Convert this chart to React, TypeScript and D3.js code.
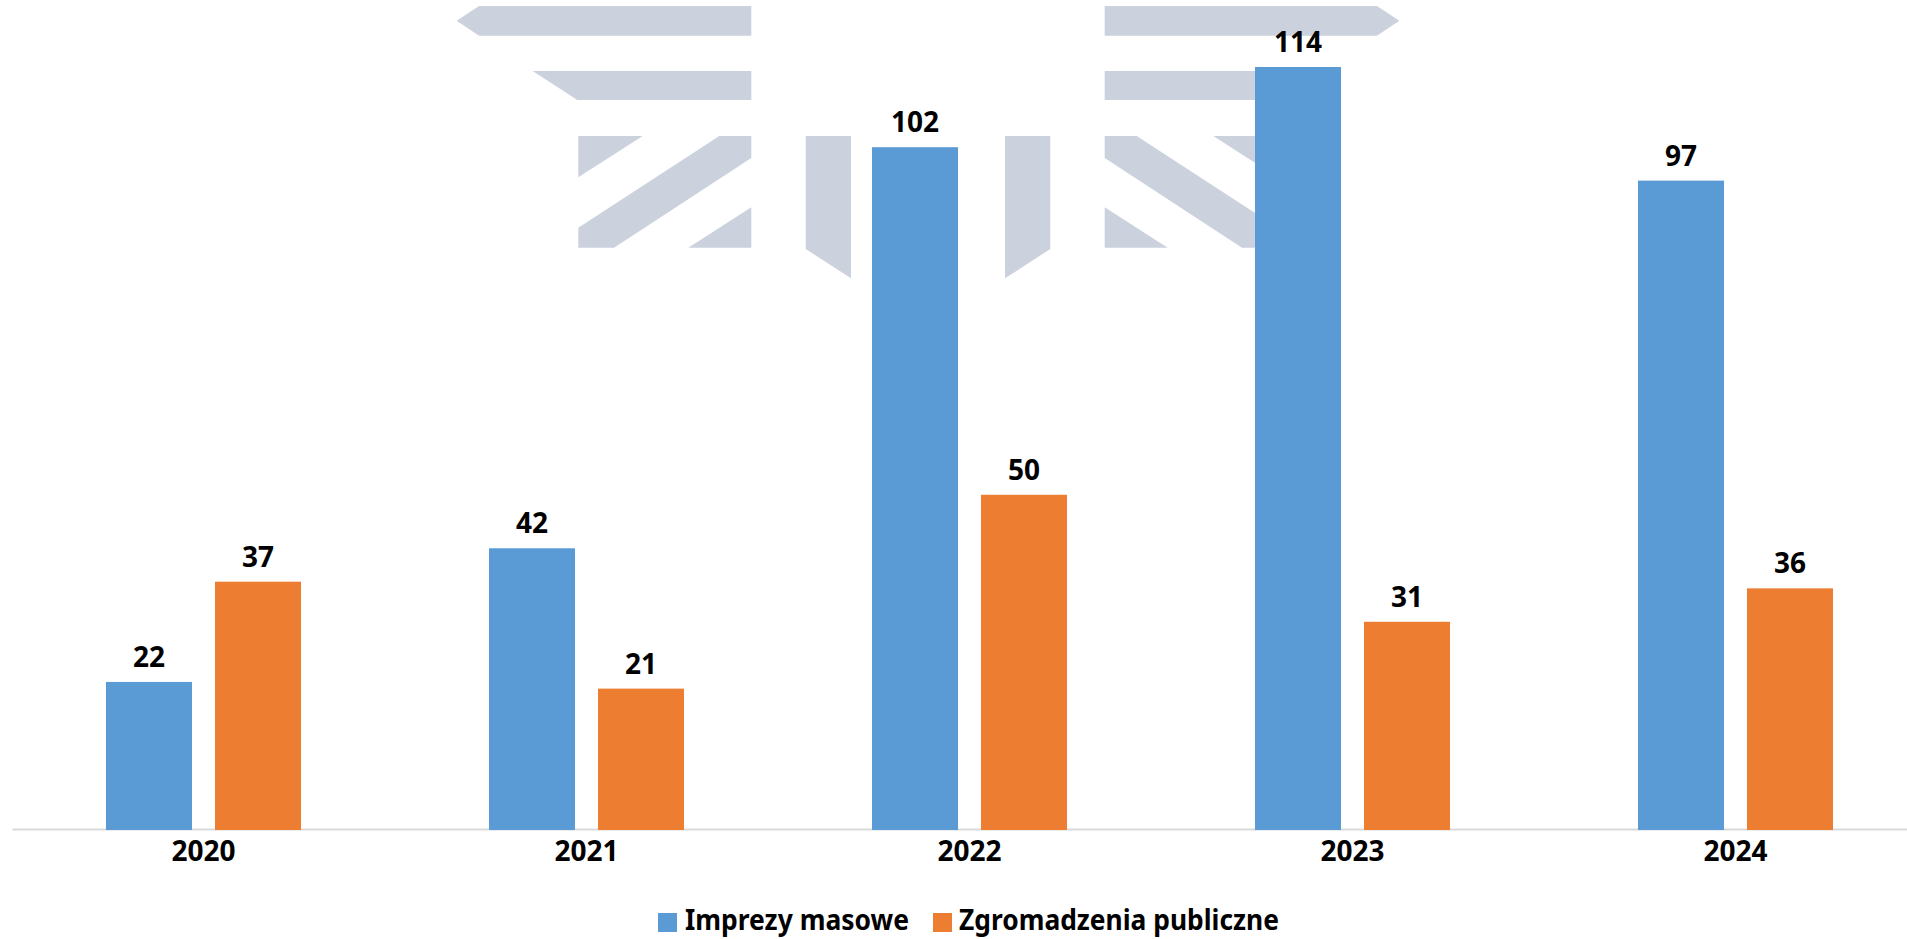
import { useRef, useEffect } from 'react';
import * as d3 from 'd3';

const years = ['2020', '2021', '2022', '2023', '2024'];
const imprezyMasowe = [22, 42, 102, 114, 97];
const zgromadzeniaPubliczne = [37, 21, 50, 31, 36];
const seriesNames = ['Imprezy masowe', 'Zgromadzenia publiczne'];
const seriesColors = ['#5B9BD5', '#ED7D31'];

const width = 1907;
const height = 939;
const baseline = 829;
const font = '"Noto Sans", sans-serif';

// logo behind the bars, left half only, the right half is mirrored around x=928
const watermark = [
  'M456.7,20.7 L479,6 L751.3,6 L751.3,35.7 L479,35.7 Z',
  'M532.7,71 L751.3,71 L751.3,100 L577.3,100 Z',
  'M578.3,136 L642.7,136 L578.3,177.3 Z',
  'M719.3,136 L751.3,136 L751.3,158 L614,247.7 L578.3,247.7 L578.3,227.7 Z',
  'M751.3,207.3 L751.3,247.7 L688.3,247.7 Z',
  'M805.7,136 L851,136 L851,278.3 L805.7,249 Z',
];

export default function App() {
  const axisRef = useRef<SVGGElement>(null);

  // runs past the right edge of the picture, same as the original
  const x = d3.scaleBand().domain(years).range([12, 1927]);
  const xInner = d3.scaleBand().domain(seriesNames).range([0, 195]).paddingInner(23 / 109);
  const y = d3.scaleLinear().domain([0, 114]).range([baseline, 67]);

  const offset = (x.bandwidth() - 195) / 2;
  const series = [imprezyMasowe, zgromadzeniaPubliczne];

  useEffect(() => {
    const axis = d3.axisBottom(x).tickSize(0).tickPadding(0);
    const g = d3.select(axisRef.current);
    g.call(axis as any);
    g.select('.domain').attr('stroke', '#D9D9D9').attr('stroke-width', 2);
    g.selectAll('text')
      .attr('y', 32)
      .attr('dy', 0)
      .attr('fill', '#000')
      .attr('font-size', 28)
      .attr('font-weight', 700)
      .attr('font-family', font);
  }, []);

  return (
    <svg
      width={width}
      height={height}
      style={{ position: 'absolute', left: 0, top: 0, display: 'block', background: '#fff' }}
    >
      <g fill="#CBD2DD">
        {watermark.map((d, i) => (
          <path key={i} d={d} />
        ))}
        <g transform="translate(1856,0) scale(-1,1)">
          {watermark.map((d, i) => (
            <path key={i} d={d} />
          ))}
        </g>
      </g>
      <g ref={axisRef} transform={`translate(0,${baseline})`} />
      {seriesNames.map((name, s) => (
        <g key={name}>
          {years.map((year, i) => {
            const bx = x(year)! + offset + xInner(name)!;
            const v = series[s][i];
            return (
              <g key={year}>
                <rect
                  x={bx}
                  y={y(v)}
                  width={xInner.bandwidth()}
                  height={baseline - y(v) + 1}
                  fill={seriesColors[s]}
                />
                <text
                  x={bx + xInner.bandwidth() / 2}
                  y={y(v) - 15}
                  textAnchor="middle"
                  fontFamily={font}
                  fontSize={28}
                  fontWeight={700}
                >
                  {v}
                </text>
              </g>
            );
          })}
        </g>
      ))}
      {/* legend sits 3px higher than the original so the descenders are not cut by the page edge */}
      <g fontFamily={font} fontSize={28} fontWeight={700}>
        <rect x={658} y={913} width={19} height={19} fill={seriesColors[0]} />
        <text x={685} y={930} textLength={224} lengthAdjust="spacingAndGlyphs">
          {seriesNames[0]}
        </text>
        <rect x={933} y={913} width={19} height={19} fill={seriesColors[1]} />
        <text x={959} y={930} textLength={320} lengthAdjust="spacingAndGlyphs">
          {seriesNames[1]}
        </text>
      </g>
    </svg>
  );
}
